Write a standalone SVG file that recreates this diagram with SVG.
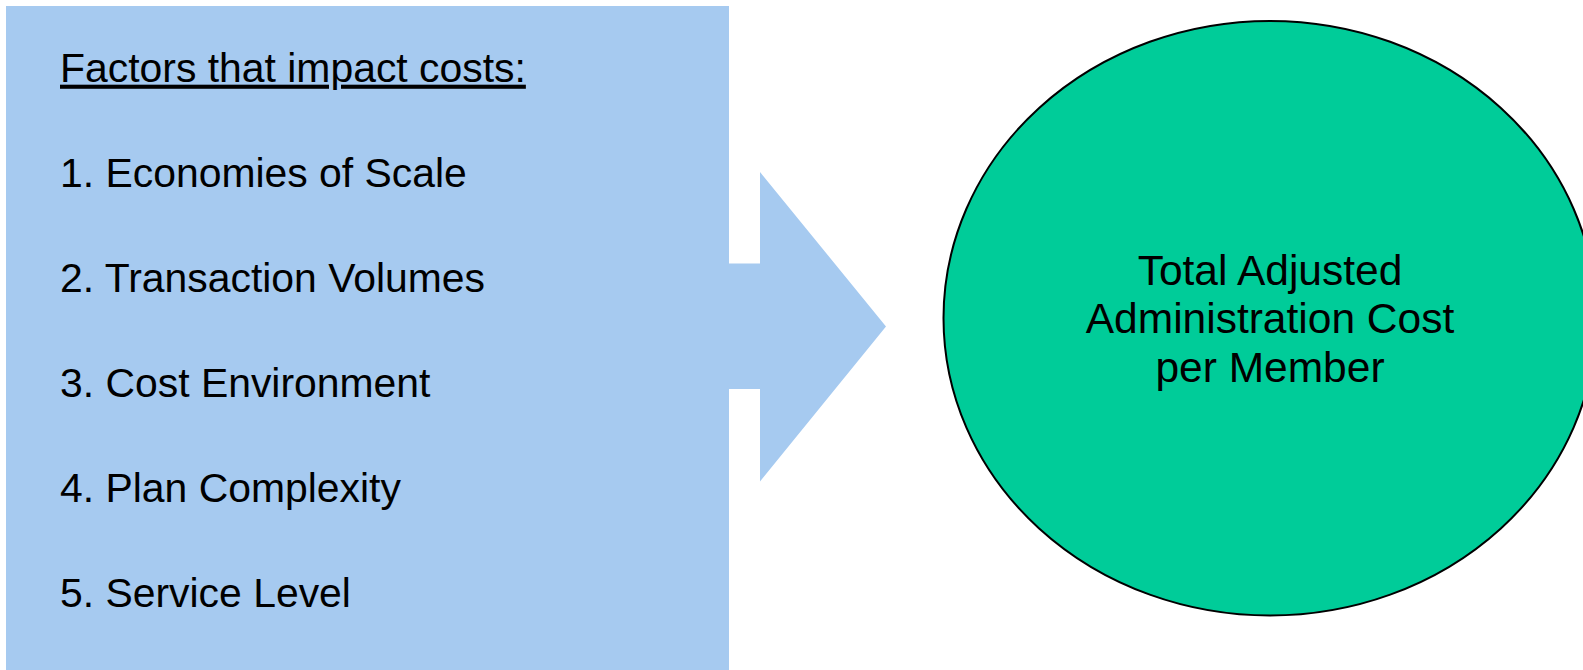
<svg xmlns="http://www.w3.org/2000/svg" width="1583" height="670" viewBox="0 0 1583 670">
  <style>
    .factor { font-family: "Liberation Sans", Arial, sans-serif; font-size: 40.9px; fill: #000000; }
    .result { font-family: "Liberation Sans", Arial, sans-serif; font-size: 42.5px; fill: #000000; text-anchor: middle; }
  </style>
  <rect width="1583" height="670" fill="#FFFFFF"/>
  <g id="factors">
    <rect x="6" y="6" width="723" height="664" fill="#A6CAF0"/>
    <text class="factor" x="60" y="81.7" text-decoration="underline">Factors that impact costs:</text>
    <text class="factor" x="60" y="186.7">1. Economies of Scale</text>
    <text class="factor" x="60" y="291.7">2. Transaction Volumes</text>
    <text class="factor" x="60" y="396.7">3. Cost Environment</text>
    <text class="factor" x="60" y="501.7">4. Plan Complexity</text>
    <text class="factor" x="60" y="606.5">5. Service Level</text>
  </g>
  <g id="connectors">
    <polygon points="728,263.5 760,263.5 760,172 886,326.5 760,481.5 760,389 728,389" fill="#A6CAF0"/>
  </g>
  <g id="total-cost">
    <ellipse cx="1270" cy="318.2" rx="326.5" ry="297.3" fill="#00CC99" stroke="#000000" stroke-width="2"/>
    <text class="result" x="1270" y="285">Total Adjusted</text>
    <text class="result" x="1270" y="333.3">Administration Cost</text>
    <text class="result" x="1270" y="381.7">per Member</text>
  </g>
</svg>
